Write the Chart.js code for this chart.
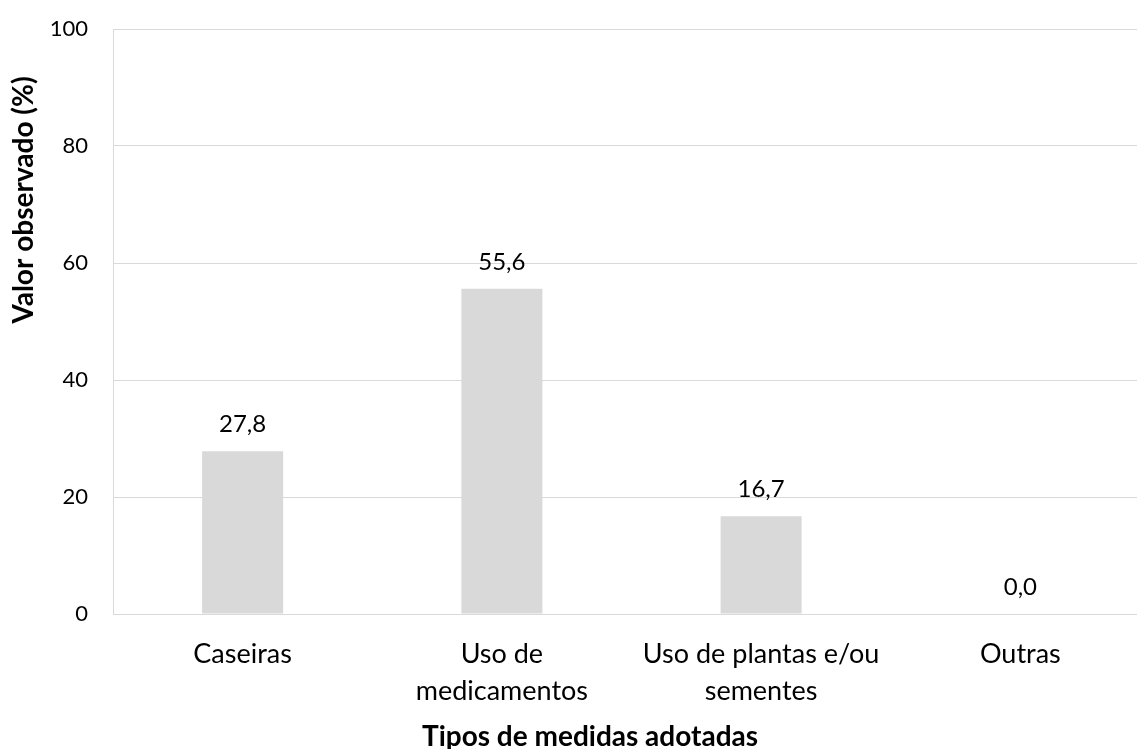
<!DOCTYPE html>
<html lang="pt">
<head>
<meta charset="UTF-8">
<title>Tipos de medidas adotadas</title>
<script src="https://cdn.jsdelivr.net/npm/chart.js@4.4.0/dist/chart.umd.min.js"></script>
<style>
	html, body { margin: 0; padding: 0; background: #fff; overflow: hidden; }
	#wrap { width: 1150px; height: 749px; }
</style>
</head>
<body>
	<div id="wrap"><canvas id="chart"></canvas></div>

	<script>
		var categories = ['Caseiras', ['Uso de', 'medicamentos'], ['Uso de plantas e/ou', 'sementes'], 'Outras'];
		var values = [27.8, 55.6, 16.7, 0.0];
		var yTicks = [0, 20, 40, 60, 80, 100];
		var xTitle = 'Tipos de medidas adotadas';
		var yTitle = 'Valor observado (%)';

		var fontName = "Lato, 'Open Sans', sans-serif";

		// value labels above each bar (decimal comma) + the two axis titles
		var extraText = {
			id : 'extraText',
			afterDatasetsDraw : function(chart) {
				var ctx = chart.ctx;
				var meta = chart.getDatasetMeta(0);
				ctx.save();
				ctx.fillStyle = '#000';
				ctx.font = '24px ' + fontName;
				ctx.textAlign = 'center';
				ctx.textBaseline = 'alphabetic';
				meta.data.forEach(function(bar, i) {
					var txt = values[i].toFixed(1).replace('.', ',');
					ctx.fillText(txt, bar.x, bar.y - 19);
				});

				ctx.font = 'bold 28px ' + fontName;
				ctx.fillText(xTitle, 590, 746);

				ctx.translate(33, 200);
				ctx.rotate(-Math.PI / 2);
				ctx.fillText(yTitle, 0, 0);
				ctx.restore();
			}
		};

		var ctx = document.getElementById('chart').getContext('2d');
		var chart = new Chart(ctx, {
			type : 'bar',
			data : {
				labels : categories,
				datasets : [ {
					data : values,
					backgroundColor : '#d9d9d9',
					borderWidth : 0,
					barPercentage : 0.3125,
					categoryPercentage : 1
				} ]
			},
			options : {
				responsive : true,
				maintainAspectRatio : false,
				animation : false,
				layout : { padding : { top : 29, right : 0, left : 0, bottom : 0 } },
				plugins : {
					legend : { display : false },
					tooltip : { enabled : false }
				},
				scales : {
					x : {
						grid : { display : false, drawTicks : false },
						border : { color : '#d9d9d9', width : 1 },
						ticks : {
							color : '#000',
							font : { family : fontName, size : 27, lineHeight : 1.37 },
							padding : 22,
							maxRotation : 0,
							autoSkip : false
						},
						afterFit : function(scale) {
							scale.height = 135;
							scale.paddingLeft = 0;
							scale.paddingRight = 0;
						}
					},
					y : {
						min : 0,
						max : 100,
						afterBuildTicks : function(scale) {
							scale.ticks = yTicks.map(function(v) { return { value : v }; });
						},
						grid : { color : '#d9d9d9', drawTicks : false },
						border : { color : '#d9d9d9', width : 1 },
						ticks : {
							color : '#000',
							font : { family : fontName, size : 22 },
							padding : 25
						},
						afterFit : function(scale) {
							scale.width = 113;
							scale.paddingTop = 0;
							scale.paddingBottom = 0;
						}
					}
				}
			},
			plugins : [ extraText ]
		});
	</script>
</body>
</html>
